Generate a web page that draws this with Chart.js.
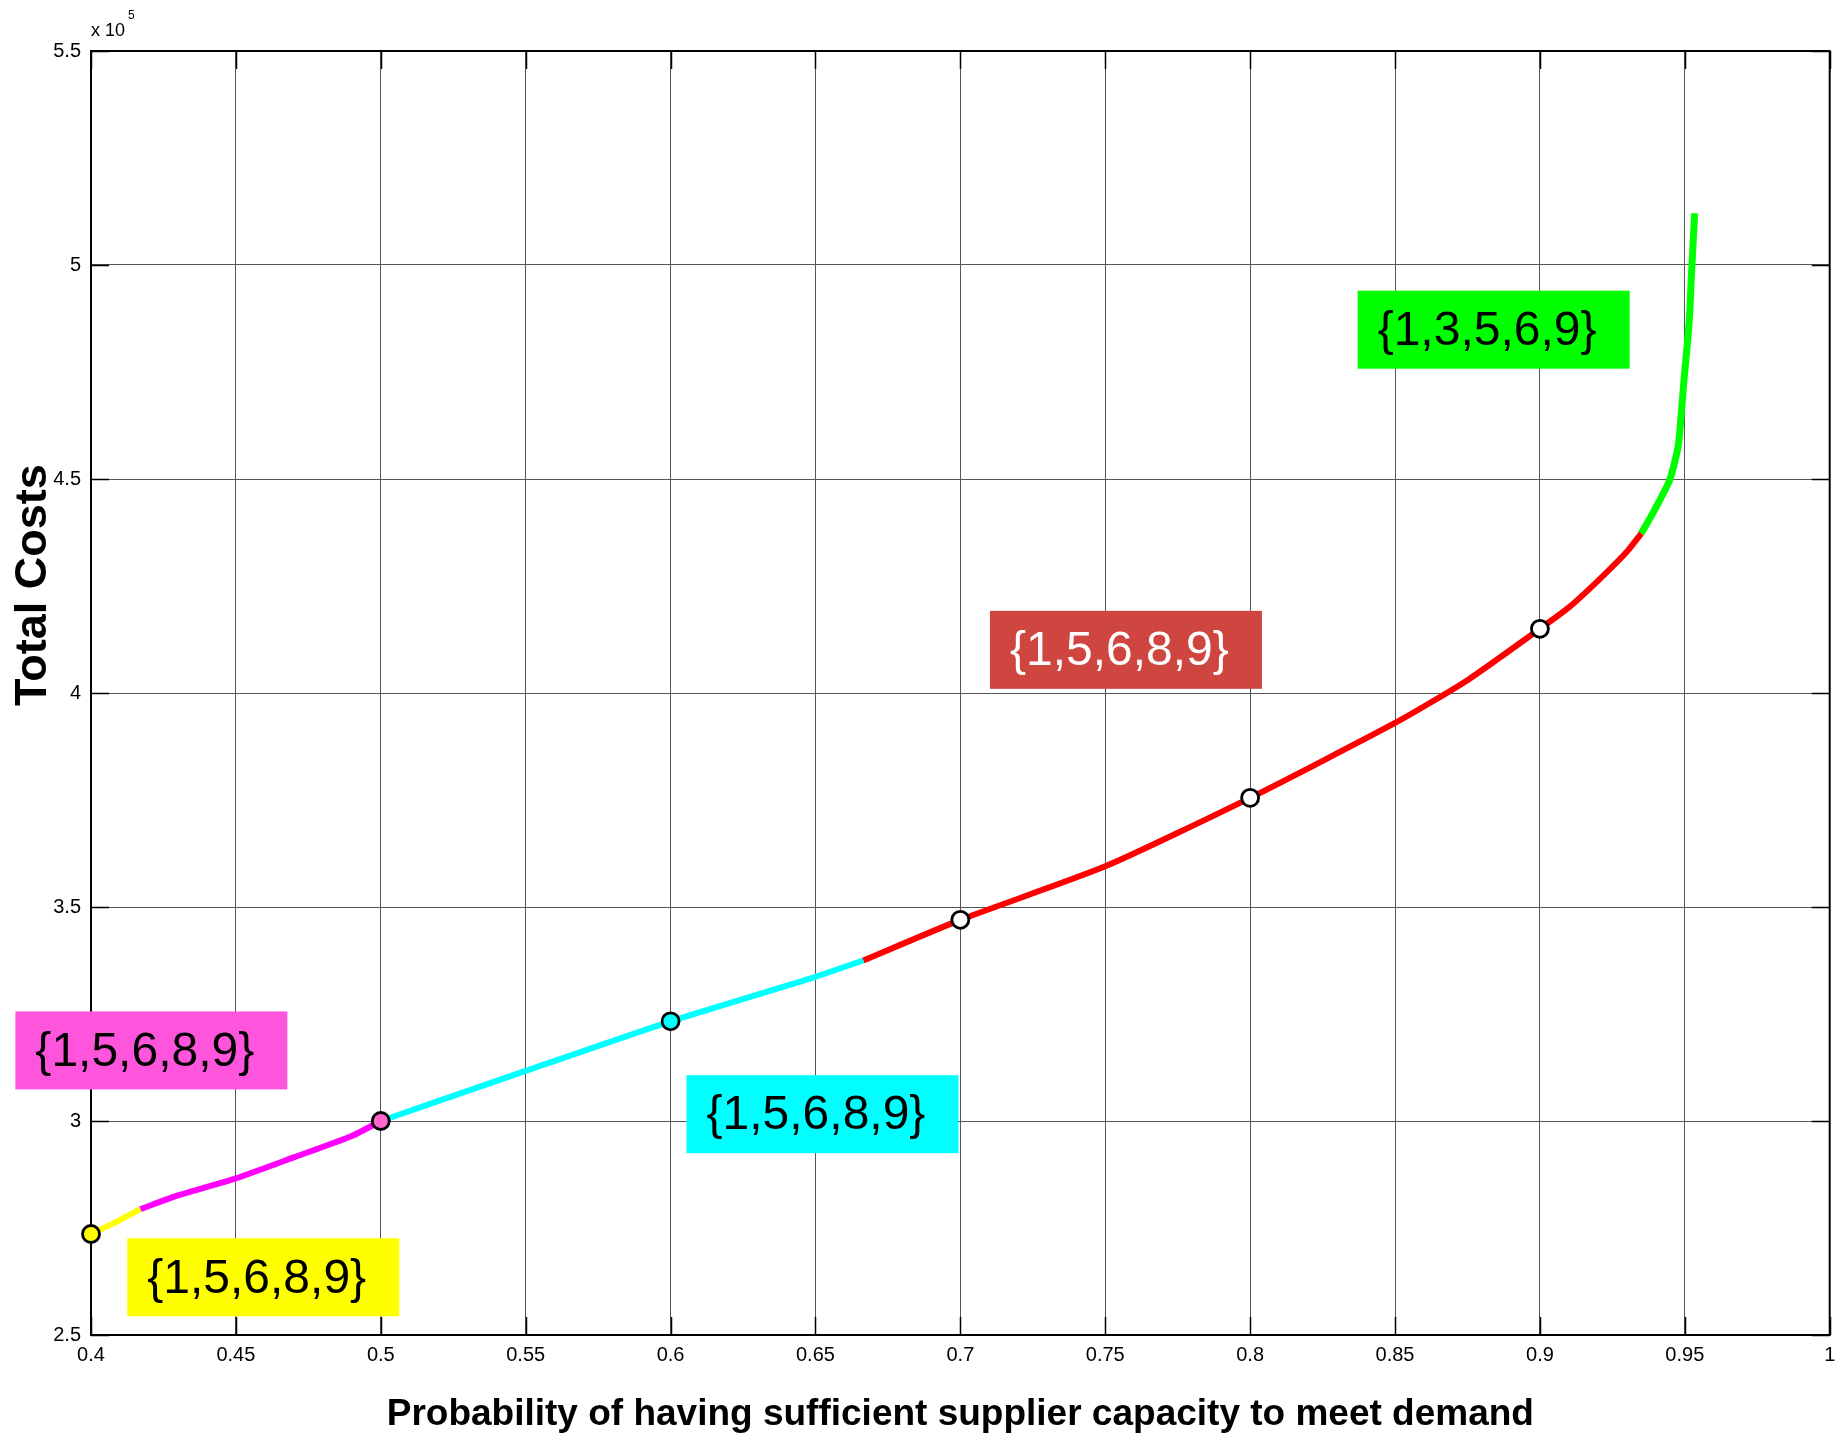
<!DOCTYPE html>
<html>
<head>
<meta charset="utf-8">
<script src="https://cdn.jsdelivr.net/npm/chart.js@4.4.1/dist/chart.umd.min.js"></script>
<style>
  html, body { margin: 0; padding: 0; background: #ffffff; }
  #wrap { width: 1841px; height: 1437px; position: relative; }
</style>
</head>
<body>
<div id="wrap"><canvas id="c" width="1841" height="1437"></canvas></div>
<script>
// Probability of sufficient capacity (x) vs total costs in units of 1e5 (y), one segment per supplier set
const yellowP  = [0.400, 0.408, 0.417];
const yellowC  = [2.736, 2.762, 2.794];
const magentaP = [0.417, 0.430, 0.450, 0.470, 0.490, 0.500];
const magentaC = [2.794, 2.826, 2.866, 2.915, 2.965, 3.000];
const cyanP    = [0.500, 0.550, 0.600, 0.650, 0.6665];
const cyanC    = [3.000, 3.117, 3.233, 3.337, 3.375];
const redP     = [0.6665, 0.700, 0.750, 0.800, 0.850, 0.875, 0.900, 0.910, 0.920, 0.930, 0.935];
const redC     = [3.375, 3.470, 3.595, 3.755, 3.930, 4.030, 4.150, 4.200, 4.262, 4.330, 4.373];
const greenP   = [0.935, 0.9396, 0.9448, 0.9477, 0.9488, 0.9497, 0.9508, 0.9517, 0.9522, 0.9528, 0.9534];
const greenC   = [4.373, 4.428, 4.498, 4.576, 4.654, 4.730, 4.810, 4.888, 4.965, 5.043, 5.121];

// Highlighted solutions on the curve
const markerP = [0.4, 0.5, 0.6, 0.7, 0.8, 0.9];
const markerC = [2.736, 3.000, 3.233, 3.470, 3.755, 4.150];

// Axis ticks
const xTicks = [0.4, 0.45, 0.5, 0.55, 0.6, 0.65, 0.7, 0.75, 0.8, 0.85, 0.9, 0.95, 1];
const yTicks = [2.5, 3, 3.5, 4, 4.5, 5, 5.5];

// Supplier-set labels
const setLabels = ["{1,5,6,8,9}", "{1,5,6,8,9}", "{1,5,6,8,9}", "{1,5,6,8,9}", "{1,3,5,6,9}"];

const pts = (xs, ys) => xs.map((x, i) => ({ x: x, y: ys[i] }));

// Label box placement (data coords of top-left corner) and styling
const boxStyle = [
  { x: 0.4125, y: 2.726, fill: '#ffff00', text: '#000000' },
  { x: 0.3739, y: 3.256, fill: '#ff55dd', text: '#000000' },
  { x: 0.6055, y: 3.107, fill: '#00ffff', text: '#000000' },
  { x: 0.7102, y: 4.192, fill: '#cf453f', text: '#ffffff' },
  { x: 0.8371, y: 4.940, fill: '#00ff00', text: '#000000' }
];
const BOX_W = 272, BOX_H = 78;

const FONT = '"Liberation Sans", Arial, Helvetica, sans-serif';

const framePlugin = {
  id: 'frame',
  beforeDatasetsDraw(chart) {
    const { ctx, chartArea: a, scales } = chart;
    ctx.save();
    ctx.strokeStyle = '#000000';
    ctx.lineWidth = 1.5;
    const tl = 18;
    ctx.beginPath();
    xTicks.forEach(v => {
      const px = Math.round(scales.x.getPixelForValue(v)) + 0.5;
      ctx.moveTo(px, a.bottom); ctx.lineTo(px, a.bottom - tl);
      ctx.moveTo(px, a.top); ctx.lineTo(px, a.top + tl);
    });
    yTicks.forEach(v => {
      const py = Math.round(scales.y.getPixelForValue(v)) + 0.5;
      ctx.moveTo(a.left, py); ctx.lineTo(a.left + tl, py);
      ctx.moveTo(a.right, py); ctx.lineTo(a.right - tl, py);
    });
    ctx.stroke();
    ctx.lineWidth = 2;
    ctx.strokeRect(a.left, a.top, a.right - a.left, a.bottom - a.top);
    ctx.restore();
  },
  afterDraw(chart) {
    const { ctx, chartArea: a, scales } = chart;
    ctx.save();
    // exponent note above the y axis
    ctx.fillStyle = '#000000';
    ctx.textBaseline = 'middle';
    ctx.textAlign = 'left';
    ctx.font = '18px ' + FONT;
    ctx.fillText('x 10', a.left, a.top - 20);
    const w = ctx.measureText('x 10').width;
    ctx.font = '12px ' + FONT;
    ctx.fillText('5', a.left + w + 3, a.top - 35);

    // y axis title
    ctx.font = 'bold 45px ' + FONT;
    ctx.textAlign = 'center';
    ctx.translate(34, scales.y.getPixelForValue(4.252));
    ctx.rotate(-Math.PI / 2);
    ctx.fillText('Total Costs', 0, 0);
    ctx.restore();
  }
};

const labelPlugin = {
  id: 'setLabels',
  afterDatasetsDraw(chart) {
    const { ctx, scales } = chart;
    ctx.save();
    boxStyle.forEach((b, i) => {
      const left = scales.x.getPixelForValue(b.x);
      const top = scales.y.getPixelForValue(b.y);
      ctx.fillStyle = b.fill;
      ctx.fillRect(left, top, BOX_W, BOX_H);
      ctx.fillStyle = b.text;
      ctx.font = '48px ' + FONT;
      ctx.textAlign = 'left';
      ctx.textBaseline = 'middle';
      ctx.fillText(setLabels[i], left + 20, top + BOX_H / 2 + 2);
    });
    ctx.restore();
  }
};

const lineSet = (data, color, width) => ({
  data: data,
  showLine: true,
  borderColor: color,
  backgroundColor: color,
  borderWidth: width,
  pointRadius: 0,
  pointHoverRadius: 0,
  tension: 0.2,
  borderCapStyle: 'butt'
});

new Chart(document.getElementById('c'), {
  type: 'scatter',
  data: {
    datasets: [
      {
        data: pts(markerP, markerC),
        showLine: false,
        pointRadius: 8.5,
        pointBorderWidth: 2.8,
        pointBorderColor: '#000000',
        pointBackgroundColor: ['#ffff00', '#ff66cc', '#00ffff', '#ffffff', '#ffffff', '#ffffff'],
        clip: false
      },
      lineSet(pts(yellowP, yellowC), '#ffff00', 6),
      lineSet(pts(magentaP, magentaC), '#ff00ff', 6),
      lineSet(pts(cyanP, cyanC), '#00ffff', 6),
      lineSet(pts(redP, redC), '#ff0000', 6),
      lineSet(pts(greenP, greenC), '#00ff00', 7)
    ]
  },
  options: {
    responsive: false,
    animation: false,
    events: [],
    layout: { padding: { left: 0, top: 51, right: 0, bottom: 0 } },
    plugins: { legend: { display: false }, tooltip: { enabled: false }, title: { display: false } },
    scales: {
      x: {
        type: 'linear',
        min: 0.4, max: 1,
        afterBuildTicks: s => { s.ticks = xTicks.map(v => ({ value: v })); },
        afterFit: s => { s.height = 102; s.paddingRight = 2; },
        grid: { color: '#555555', lineWidth: 1, drawTicks: false },
        border: { display: false },
        ticks: {
          padding: 8,
          color: '#000000',
          font: { family: FONT, size: 20 },
          maxRotation: 0,
          autoSkip: false,
          callback: v => String(Math.round(v * 100) / 100)
        },
        title: {
          display: true,
          text: 'Probability of having sufficient supplier capacity to meet demand',
          color: '#000000',
          font: { family: FONT, size: 37, weight: 'bold' },
          padding: { top: 0, bottom: 0 }
        }
      },
      y: {
        type: 'linear',
        min: 2.5, max: 5.5,
        afterBuildTicks: s => { s.ticks = yTicks.map(v => ({ value: v })); },
        afterFit: s => { s.width = 91; },
        grid: { color: '#555555', lineWidth: 1, drawTicks: false },
        border: { display: false },
        ticks: {
          padding: 10,
          color: '#000000',
          font: { family: FONT, size: 20 },
          autoSkip: false,
          callback: v => String(Math.round(v * 10) / 10)
        }
      }
    }
  },
  plugins: [framePlugin, labelPlugin]
});
</script>
</body>
</html>
